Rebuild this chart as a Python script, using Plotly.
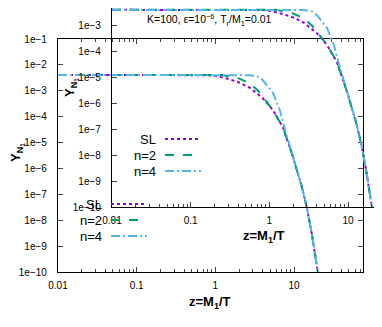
import plotly.graph_objects as go

# z = M1/T and Y_N1
names = ["SL", "n=2", "n=4"]
z_sl = [0.01, 0.3, 0.8, 1.0, 1.5, 2.0, 2.75, 4.0, 5.4, 7.2, 9.7, 12.6, 14.6, 17.0, 20.1, 22.0]
y_sl = [4.1e-3, 4.1e-3, 4.0e-3, 3.8e-3, 2.8e-3, 2.1e-3, 1.3e-3, 5.2e-4, 1.8e-4, 4.0e-5, 2.8e-6, 1.9e-7, 3.0e-8, 2.5e-9, 1.0e-10, 1.6e-11]
z_n2 = [0.01, 0.3, 1.2, 1.9, 2.75, 3.5, 4.5, 5.4, 7.2, 9.7, 12.6, 14.6, 17.0, 20.1, 22.0]
y_n2 = [4.1e-3, 4.1e-3, 4.1e-3, 3.2e-3, 1.9e-3, 1.0e-3, 3.5e-4, 1.8e-4, 4.0e-5, 2.8e-6, 1.9e-7, 3.0e-8, 2.5e-9, 1.0e-10, 1.6e-11]
z_n4 = [0.01, 0.3, 2.75, 3.5, 4.0, 5.4, 6.6, 7.7, 9.7, 12.6, 14.6, 17.0, 20.1, 22.0]
y_n4 = [4.1e-3, 4.1e-3, 4.0e-3, 3.5e-3, 2.6e-3, 8.3e-4, 1.8e-4, 3.1e-5, 2.8e-6, 1.9e-7, 3.0e-8, 2.5e-9, 1.0e-10, 1.6e-11]

xtick_vals = [0.01, 0.1, 1, 10]
xtick_text = ["0.01", "0.1", "1", "10"]
ytick_vals = [10.0 ** -k for k in range(1, 11)]
ytick_text = ["1e\u2212%d" % k for k in range(1, 11)]

colors = ["#9400D3", "#009E73", "#56B4E9"]
dashes = ["dot", "dash", "9px,3px,2px,3px"]
series = [(z_sl, y_sl), (z_n2, y_n2), (z_n4, y_n4)]

W, H = 382, 327
OFF = 8  # the page body margin pushes the figure 8px right and down
FONT = "Liberation Sans, Arial, sans-serif"


def px(x):
    return (x - OFF) / W


def py(y):
    return 1 - (y - OFF) / H


fig = go.Figure()
for suffix in ["", "2"]:
    for (zz, yy), name, c, d in zip(series, names, colors, dashes):
        fig.add_trace(go.Scatter(x=zz, y=yy, mode="lines", name=name, showlegend=False,
                                 line=dict(color=c, width=2, dash=d),
                                 xaxis="x" + suffix, yaxis="y" + suffix))

minor_x = [m * 10.0 ** e for e in range(-2, 2) for m in range(2, 10)]

common_x = dict(type="log", tickvals=xtick_vals, ticktext=xtick_text, ticks="inside", ticklen=5,
                showline=True, linecolor="black", linewidth=1.2, showgrid=False, zeroline=False,
                automargin=False, ticklabelstandoff=4,
                tickfont=dict(family=FONT, size=10, color="black"),
                minor=dict(tickvals=minor_x, ticks="inside", ticklen=2.5, showgrid=False))
common_y = dict(type="log", tickvals=ytick_vals, ticktext=ytick_text, ticks="inside", ticklen=5,
                showline=True, linecolor="black", linewidth=1.2, showgrid=False, zeroline=False,
                automargin=False, ticklabelstandoff=8,
                tickfont=dict(family=FONT, size=10, color="black"))

XS, YS = 78.7, 25.9  # px per decade
fig.update_layout(
    width=W, height=H, autosize=False,
    margin=dict(l=0, r=0, t=0, b=0, autoexpand=False),
    paper_bgcolor="white", plot_bgcolor="rgba(0,0,0,0)",
    xaxis=dict(common_x, domain=[px(58), px(363)], range=[-2, 1.877], mirror="ticks", anchor="y"),
    yaxis=dict(common_y, domain=[py(272), py(39)], range=[-10, -1], mirror="ticks", anchor="x"),
    xaxis2=dict(common_x, domain=[px(112), 1], range=[-2, -2 + (W + OFF - 112) / XS], anchor="y2"),
    yaxis2=dict(common_y, domain=[py(207), 1], range=[-10, -10 + (207 - OFF) / YS], anchor="x2"),
)

annotations = []
shapes = []
# two copies of the picture, the second one shifted
for dx, dy in [(0, 0), (54, -65)]:
    annotations.append(dict(text="<b>z=M<sub>1</sub>/T</b>", x=px(210 + dx), y=py(302 + dy),
                            xref="paper", yref="paper", showarrow=False,
                            xanchor="center", yanchor="middle",
                            font=dict(family=FONT, size=13, color="black")))
    annotations.append(dict(text="<b>Y<sub>N<sub>1</sub></sub></b>", x=px(17 + dx), y=py(153 + dy),
                            xref="paper", yref="paper", showarrow=False, textangle=-90,
                            xanchor="center", yanchor="middle",
                            font=dict(family=FONT, size=13, color="black")))
    for i, (name, c, d) in enumerate(zip(names, colors, dashes)):
        ly = 204 + 16 * i + dy
        annotations.append(dict(text=name, x=px(104 + dx), y=py(ly), xref="paper", yref="paper",
                                xanchor="right", yanchor="middle", showarrow=False,
                                font=dict(family=FONT, size=13, color="black")))
        shapes.append(dict(type="line", xref="paper", yref="paper",
                           x0=px(111 + dx), x1=px(147 + dx), y0=py(ly), y1=py(ly),
                           line=dict(color=c, width=2, dash=d)))

annotations.append(dict(text="K=100, \u03b5=10<sup>\u22126</sup>, T<sub>r</sub>/M<sub>1</sub>=0.01",
                        x=px(210), y=py(20), xref="paper", yref="paper", showarrow=False,
                        xanchor="center", yanchor="middle",
                        font=dict(family=FONT, size=10.5, color="black")))

fig.update_layout(annotations=annotations, shapes=shapes)
fig.write_html("out.html")
